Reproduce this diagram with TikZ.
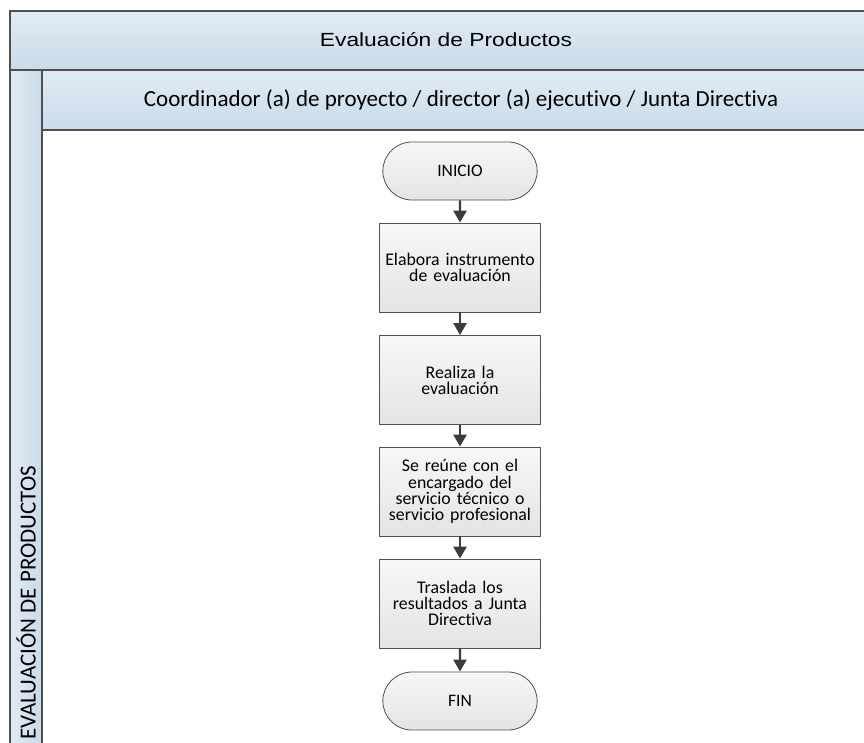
\documentclass[tikz,border=0pt]{standalone}
\usepackage{fontspec}
\setmainfont{Carlito}[Ligatures=NoCommon]
\newfontfamily\arialf[FakeStretch=1.2]{Liberation Sans}
\usetikzlibrary{arrows.meta,shapes.misc}
\definecolor{bandtop}{HTML}{E2EBF4}
\definecolor{bandbot}{HTML}{C9DBEA}
\definecolor{boxtop}{HTML}{F7F7F7}
\definecolor{boxbot}{HTML}{E4E4E4}
\definecolor{edge}{HTML}{505050}
\definecolor{arr}{HTML}{3C3C3C}
\tikzset{
  band/.style={draw=edge, line width=1.4pt, top color=bandtop, bottom color=bandbot},
  stepbox/.style={draw=edge, line width=0.8pt, top color=boxtop, bottom color=boxbot,
    minimum width=161pt, minimum height=89pt, align=center, inner sep=1pt,
    text width=159pt, font=\fontsize{17.8}{16.2}\selectfont},
  term/.style={draw=edge, line width=0.8pt, top color=boxtop, bottom color=boxbot,
    rounded rectangle, minimum width=161pt, minimum height=58pt,
    font=\fontsize{17.5}{18}\selectfont},
  flow/.style={draw=arr, line width=2.4pt, -{Triangle[length=12pt,width=13pt]}}
}
\begin{document}
\begin{tikzpicture}[x=1pt,y=-1pt]
\useasboundingbox (0,0) rectangle (864,742);
% bands
\path[band] (10,11) rectangle (880,70);
\node (title) at (446,40) {\arialf\fontsize{19}{21}\selectfont Evaluación de Productos};
\path[band] (42,70) rectangle (880,130);
\node (header) at (461,100) {\fontsize{23}{25}\selectfont Coordinador (a) de proyecto / director (a) ejecutivo / Junta Directiva};
\path[draw=edge, line width=1.4pt, left color=bandtop, right color=bandbot] (10,760) -- (10,70) -- (42,70) -- (42,760);
\node[rotate=90, anchor=west, inner sep=2pt] (lane) at (26,742) {\fontsize{23}{25}\selectfont EVALUACIÓN DE PRODUCTOS};
% flow
\node[term] (inicio) at (460,171) {INICIO};
\node[stepbox] (s1) at (460,267.5) {Elabora instrumento\\de evaluación};
\node[stepbox] (s2) at (460,380) {Realiza la\\evaluación};
\node[stepbox] (s3) at (460,491.5) {Se reúne con el\\encargado del\\servicio técnico o\\servicio profesional};
\node[stepbox] (s4) at (460,603.5) {Traslada los\\resultados a Junta\\Directiva};
\node[term] (fin) at (460,701) {FIN};
\draw[flow] (inicio) -- (s1);
\draw[flow] (s1) -- (s2);
\draw[flow] (s2) -- (s3);
\draw[flow] (s3) -- (s4);
\draw[flow] (s4) -- (fin);
\end{tikzpicture}
\end{document}
